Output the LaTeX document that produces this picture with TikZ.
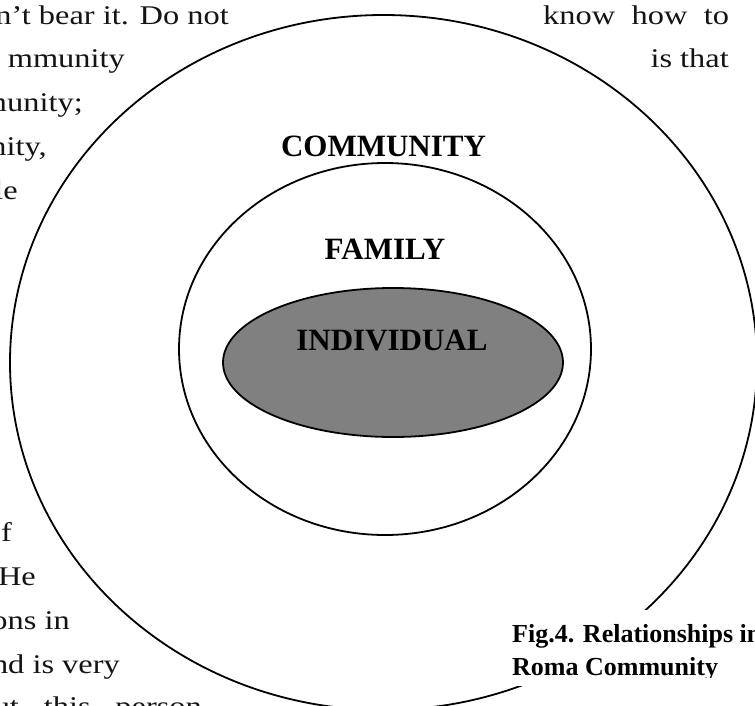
\documentclass[tikz,border=0pt]{standalone}
\usepackage{fontspec}
\setmainfont{Liberation Serif}
\newfontfamily\bodyfont[FakeStretch=1.2]{Liberation Serif}
\begin{document}
\begin{tikzpicture}[x=1pt,y=-1pt,
  ring/.style={draw=black,line width=1.8pt},
  ringtext/.style={font=\fontsize{31}{37}\selectfont\bfseries,inner sep=0pt,anchor=base},
  prose/.style={font=\bodyfont\fontsize{27}{32}\selectfont,inner sep=0pt,text=black!92},
  captext/.style={font=\fontsize{26}{32}\selectfont\bfseries,inner sep=0pt,anchor=base west}]
\useasboundingbox (0,0) rectangle (755,706);

% running text of the page around the figure
\node[prose,anchor=base east] (l1) at (229,25)  {n’t bear it. Do not};
\node[prose,anchor=base east] (l2) at (125,68)  {mmunity};
\node[prose,anchor=base east] (l3) at (83,112)  {munity;};
\node[prose,anchor=base east] (l4) at (47,156)  {nity,};
\node[prose,anchor=base east] (l5) at (18,199)  {le};
\node[prose,anchor=base west] (r1) at (543,25)  {\makebox[186pt][s]{know how to}};
\node[prose,anchor=base east] (r2) at (729,68)  {is that};
\node[prose,anchor=base east] (b1) at (12,541)  {of};
\node[prose,anchor=base east] (b2) at (36,585)  {He};
\node[prose,anchor=base east] (b3) at (70,629)  {ons in};
\node[prose,anchor=base east] (b4) at (120,673) {nd is very};
\node[prose,anchor=base east] (b5) at (202,715) {\makebox[208pt][s]{ut this person}};

% nested rings
\draw[ring] (383.5,362.5) ellipse [x radius=373.5pt, y radius=347.5pt];
\draw[ring] (385,349) ellipse [x radius=206pt, y radius=186pt];
\draw[ring,fill=gray] (393,362.5) ellipse [x radius=170pt, y radius=74.5pt];

\node[ringtext] (community) at (383.5,157) {COMMUNITY};
\node[ringtext] (family) at (385,259) {FAMILY};
\node[ringtext] (individual) at (392,350) {INDIVIDUAL};

% caption box over the outer ring
\fill[white] (500,610) rectangle (760,686);
\begin{scope}
  \clip (500,600) rectangle (760,677);
  \node[captext] (cap1) at (512,642) {Fig.4. Relationships in};
  \node[captext] (cap2) at (512,675) {Roma Community};
\end{scope}
\end{tikzpicture}
\end{document}
